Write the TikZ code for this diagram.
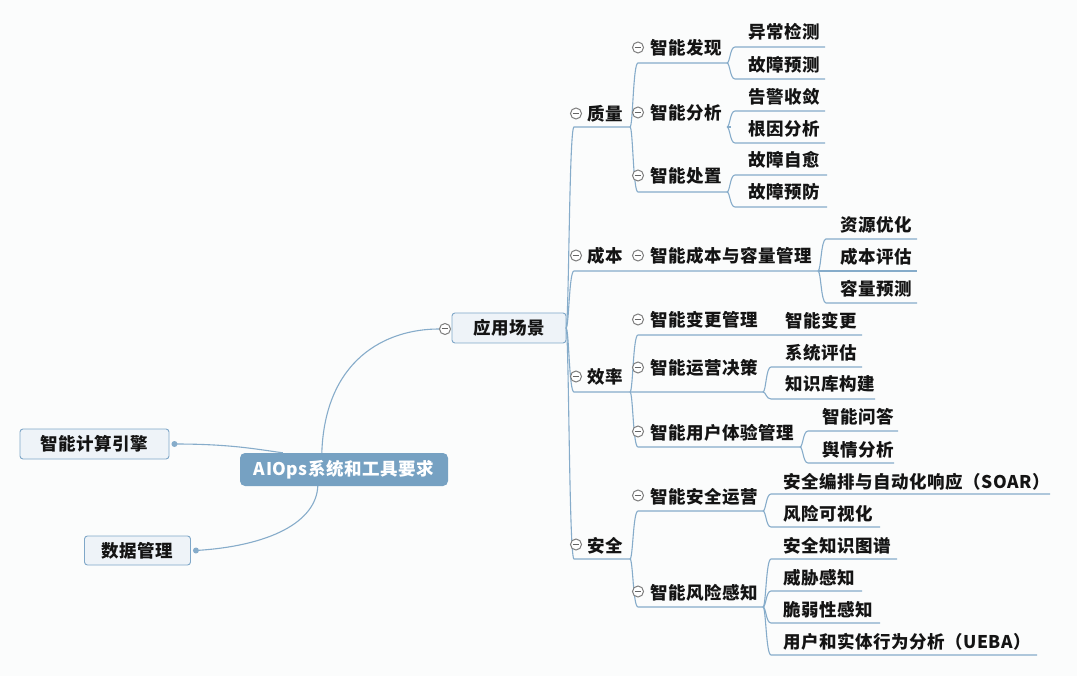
\documentclass[tikz,border=0pt]{standalone}
\usepackage{fontspec}
\newfontfamily\cjk[LetterSpace=3]{Noto Sans CJK SC}
\usetikzlibrary{calc}
\definecolor{ln}{HTML}{86ACCA}
\definecolor{bd}{HTML}{7FA7C8}
\definecolor{bx}{HTML}{EEF3F8}
\definecolor{rt}{HTML}{76A1C2}
\definecolor{bg}{HTML}{FBFCFC}
\definecolor{tx}{HTML}{141414}
\definecolor{cg}{HTML}{7D7D7D}
\newcommand\mmbr[4]{\draw[conn] (#1,#2) .. controls ({#1+3},#2) and ({#1+3},#3) .. ({#1+8},#3) -- (#4,#3);}
\newcommand\mmcirc[2]{\draw[draw=cg, fill=white, line width=1pt] (#1,{#2-1.5}) circle[radius=5.5];
  \draw[cg!80!black, line width=1pt] ({#1-3.3},{#2-1.5}) -- ({#1+3.3},{#2-1.5});}
\tikzset{
  conn/.style={draw=ln, line width=1.1pt},
  lbl/.style={anchor=west, inner sep=0pt, text=tx, font=\cjk\bfseries\fontsize{17.5}{20}\selectfont, text height=14pt, text depth=2pt},
  boxnode/.style={draw=bd, fill=bx, line width=0.9pt, rounded corners=3pt, inner sep=0pt, text=tx, font=\cjk\bfseries\fontsize{17.5}{20}\selectfont},
  rootnode/.style={fill=rt, rounded corners=5pt, inner sep=0pt, text=white, font=\cjk\bfseries\fontsize{17.5}{20}\selectfont, minimum width=208pt, minimum height=33pt}
}
\begin{document}
\begin{tikzpicture}[x=1pt,y=-1pt]
\path[use as bounding box, fill=bg] (0,0) rectangle (1077,676);

% main nodes
\node[rootnode] (root) at (344,469.5) {AIOps系统和工具要求};
\node[boxnode, minimum width=149pt, minimum height=30pt] (eng) at (94.5,444) {智能计算引擎};
\node[boxnode, minimum width=106pt, minimum height=29pt] (data) at (137.5,550.5) {数据管理};
\node[boxnode, minimum width=114pt, minimum height=30pt] (app) at (509,328) {应用场景};

% main connectors
\coordinate (engdot) at ($(eng.east)+(5,0)$);
\coordinate (datadot) at ($(data.east)+(5,0)$);
\coordinate (appc) at ($(app.west)+(-7,1)$);
\draw[conn] (engdot) .. controls (230,444) and (255,449) .. ($(root.north west)+(43,0)$);
\draw[conn] (datadot) .. controls (270,546) and (316,522) .. ($(root.south west)+(78,0)$);
\draw[conn] ($(root.north west)+(82,0)$) .. controls (325,360) and (385,329) .. ($(appc)+(-5.5,0)$);
\fill[ln] (engdot) circle[radius=3];
\fill[ln] (datadot) circle[radius=3];
\mmcirc{445}{330.5}

% spine from app
\mmbr{566}{328}{127}{630}
\mmbr{566}{328}{271}{818}
\mmbr{566}{328}{392}{763}
\mmbr{566}{328}{559}{630}

% quality
\mmbr{630}{127}{63}{727}
\mmbr{630}{127}{192}{727}
\mmbr{727}{63}{47}{825}
\mmbr{727}{63}{79}{825}
\mmbr{727}{127}{111}{825}
\mmbr{727}{127}{143}{825}
\mmbr{727}{192}{175}{827}
\mmbr{727}{192}{207}{827}
\draw[conn] (727,127) -- (731,127);
% cost
\mmbr{818}{271}{239}{917}
\mmbr{818}{271}{303}{917}
\draw[conn] (818,271) -- (917,271);
% efficiency
\mmbr{630}{392}{335}{862}
\mmbr{630}{392}{447}{800}
\mmbr{763}{392}{367}{862}
\mmbr{763}{392}{399}{875}
\mmbr{800}{447}{431}{898}
\mmbr{800}{447}{463}{894}
% security
\mmbr{630}{559}{511}{763}
\mmbr{630}{559}{607}{763}
\mmbr{763}{511}{494}{1050}
\mmbr{763}{511}{527}{880}
\mmbr{763}{607}{559}{897}
\mmbr{763}{607}{591}{862}
\mmbr{763}{607}{623}{880}
\mmbr{763}{607}{655}{1037}

% level 1
\node[lbl] (q1) at (587,115) {质量}; \mmcirc{576}{115}
\node[lbl] (c1) at (587,257) {成本}; \mmcirc{576}{257}
\node[lbl] (e1) at (587,378) {效率}; \mmcirc{576}{378}
\node[lbl] (s1) at (587,546) {安全}; \mmcirc{576}{546}

% level 2
\node[lbl] (q2a) at (650,49) {智能发现}; \mmcirc{638}{49}
\node[lbl] (q2b) at (650,114) {智能分析}; \mmcirc{638}{114}
\node[lbl] (q2c) at (650,177) {智能处置}; \mmcirc{638}{177}
\node[lbl] (c2) at (650,257) {智能成本与容量管理}; \mmcirc{638}{257}
\node[lbl] (e2a) at (650,321) {智能变更管理}; \mmcirc{638}{321}
\node[lbl] (e2b) at (650,369) {智能运营决策}; \mmcirc{638}{369}
\node[lbl] (e2c) at (650,433) {智能用户体验管理}; \mmcirc{638}{433}
\node[lbl] (s2a) at (650,497) {智能安全运营}; \mmcirc{638}{497}
\node[lbl] (s2b) at (650,593) {智能风险感知}; \mmcirc{638}{593}

% leaves
\node[lbl] (l1) at (748,33) {异常检测};
\node[lbl] (l2) at (748,66) {故障预测};
\node[lbl] (l3) at (748,98) {告警收敛};
\node[lbl] (l4) at (748,130) {根因分析};
\node[lbl] (l5) at (748,161) {故障自愈};
\node[lbl] (l6) at (748,193) {故障预防};
\node[lbl] (l7) at (840,226) {资源优化};
\node[lbl] (l8) at (840,258) {成本评估};
\node[lbl] (l9) at (840,290) {容量预测};
\node[lbl] (l10) at (785,322) {智能变更};
\node[lbl] (l11) at (785,354) {系统评估};
\node[lbl] (l12) at (785,385) {知识库构建};
\node[lbl] (l13) at (822,418) {智能问答};
\node[lbl] (l14) at (822,450) {舆情分析};
\node[lbl] (l15) at (783,482) {安全编排与自动化响应（SOAR）};
\node[lbl] (l16) at (783,514) {风险可视化};
\node[lbl] (l17) at (783,546) {安全知识图谱};
\node[lbl] (l18) at (783,578) {威胁感知};
\node[lbl] (l19) at (783,610) {脆弱性感知};
\node[lbl] (l20) at (783,642) {用户和实体行为分析（UEBA）};
\end{tikzpicture}
\end{document}
